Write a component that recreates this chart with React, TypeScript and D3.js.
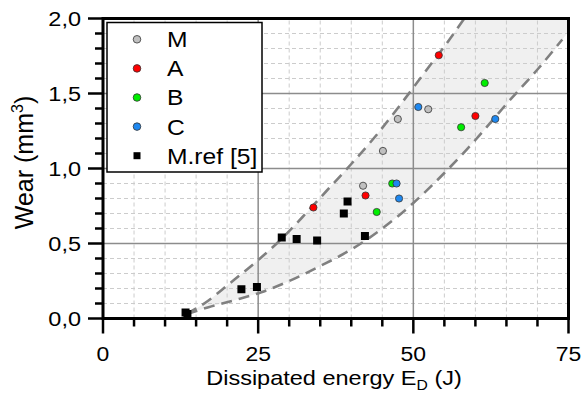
import React from 'react'
import * as d3 from 'd3'

// wear vs dissipated energy
const seriesM = [[41.9, 0.885], [45.1, 1.117], [47.5, 1.33], [52.4, 1.395]]
const seriesA = [[33.9, 0.74], [42.3, 0.82], [54.1, 1.755], [60.0, 1.35]]
const seriesB = [[44.1, 0.71], [46.6, 0.9], [57.7, 1.275], [61.5, 1.57]]
const seriesC = [[47.3, 0.9], [47.7, 0.8], [50.8, 1.41], [63.2, 1.33]]
const seriesRef = [
  [13.3, 0.04], [13.6, 0.03], [22.3, 0.195], [24.8, 0.21], [28.8, 0.54],
  [31.2, 0.53], [34.5, 0.52], [38.8, 0.7], [39.4, 0.78], [42.2, 0.55]
]

// scatter band edges
const bandUpper = [
  [13.5, 0.03], [17, 0.12], [20, 0.22], [25, 0.39], [28.5, 0.52], [32, 0.67],
  [36, 0.85], [40, 1.03], [44, 1.22], [48, 1.43], [52, 1.65], [56, 1.87], [58.2, 2.0]
]
const bandLower = [
  [13.5, 0.03], [17, 0.075], [21, 0.12], [25.5, 0.175], [30, 0.25], [35, 0.35],
  [40, 0.46], [45, 0.6], [50, 0.77], [55, 0.97], [60, 1.19], [65, 1.43],
  [70, 1.66], [74, 1.86]
]
const bandCorner = [[75, 2.0], [75, 1.93]]

const xTicks = [0, 25, 50, 75]
const yTicks = [0, 0.5, 1.0, 1.5, 2.0]

const legendItems = [
  { label: 'M', color: '#c0c0c0', shape: 'circle' },
  { label: 'A', color: '#ff0000', shape: 'circle' },
  { label: 'B', color: '#00ee00', shape: 'circle' },
  { label: 'C', color: '#1e88f0', shape: 'circle' },
  { label: 'M.ref [5]', color: '#000000', shape: 'square' }
]

const circleSeries = [
  { data: seriesM, color: legendItems[0].color },
  { data: seriesA, color: legendItems[1].color },
  { data: seriesB, color: legendItems[2].color },
  { data: seriesC, color: legendItems[3].color }
]

const W = 584
const H = 402
const font = "'Liberation Sans', Arial, sans-serif"
const SX = 1.12 // text in the source is a bit wider than plain Arial

const x = d3.scaleLinear().domain([0, 75]).range([103, 568.5])
const y = d3.scaleLinear().domain([0, 2]).range([318.5, 18.5])
const fmt = d3.formatLocale({ decimal: ',', thousands: '.', grouping: [3], currency: ['', ''] }).format('.1f')

const xMinor = d3.range(0, 75.01, 5)
const yMinor = d3.range(0, 2.001, 0.1)

const T = ({ x, y, size, anchor = 'start', dy = 0, children }) => (
  <text transform={`translate(${x},${y}) scale(${SX},1)`} dy={dy} textAnchor={anchor} fontSize={size}>{children}</text>
)

export default function App () {
  const line = d3.line().x(d => x(d[0])).y(d => y(d[1])).curve(d3.curveMonotoneX)
  const upperPath = line(bandUpper)
  const lowerRev = line([...bandCorner, ...bandLower.slice().reverse()])
  const fillPath = upperPath + lowerRev.replace(/^M/, 'L') + 'Z'

  const [x0, x1] = x.range()
  const [y0, y1] = y.range()

  return (
    <svg width={W} height={H} style={{ position: 'absolute', left: 0, top: 0, fontFamily: font }}>
      <rect width={W} height={H} fill='#fff' />
      <defs>
        <clipPath id='plot'>
          <rect x={x0} y={y1} width={x1 - x0} height={y0 - y1} />
        </clipPath>
      </defs>

      <g clipPath='url(#plot)'>
        <path d={fillPath} fill='#f0f0f0' />
      </g>

      {/* minor grid */}
      {xMinor.filter(v => v % 25 !== 0).map(v => (
        <line key={'gx' + v} x1={x(v)} x2={x(v)} y1={y0} y2={y1} stroke='#cccccc' strokeDasharray='4,3' />
      ))}
      {yMinor.filter(v => Math.abs(v * 2 - Math.round(v * 2)) > 0.01).map(v => (
        <line key={'gy' + v} x1={x0} x2={x1} y1={y(v)} y2={y(v)} stroke='#cccccc' strokeDasharray='4,3' />
      ))}
      {/* major grid */}
      {xTicks.slice(1, -1).map(v => (
        <line key={'Gx' + v} x1={x(v)} x2={x(v)} y1={y0} y2={y1} stroke='#8c8c8c' strokeWidth={1.5} />
      ))}
      {yTicks.slice(1, -1).map(v => (
        <line key={'Gy' + v} x1={x0} x2={x1} y1={y(v)} y2={y(v)} stroke='#8c8c8c' strokeWidth={1.5} />
      ))}

      <g clipPath='url(#plot)' fill='none' stroke='#808080' strokeWidth={2.6} strokeDasharray='11,7'>
        <path d={upperPath} />
        <path d={line(bandLower)} />
      </g>

      {circleSeries.map((s, i) => (
        <g key={i}>
          {s.data.map((d, j) => (
            <circle key={j} cx={x(d[0])} cy={y(d[1])} r={3.6} fill={s.color} stroke='#333' strokeWidth={0.8} />
          ))}
        </g>
      ))}
      {seriesRef.map((d, j) => (
        <rect key={j} x={x(d[0]) - 4} y={y(d[1]) - 4} width={8} height={8} fill='#000' />
      ))}

      {/* frame and ticks */}
      <rect x={x0} y={y1} width={x1 - x0} height={y0 - y1} fill='none' stroke='#000' strokeWidth={3} />
      {xMinor.map(v => (
        <line key={'tx' + v} x1={x(v)} x2={x(v)} y1={y0} y2={y0 + (v % 25 === 0 ? 15 : 8)} stroke='#000' strokeWidth={2.5} />
      ))}
      {yMinor.map((v, i) => (
        <line key={'ty' + i} x1={x0} x2={x0 - (i % 5 === 0 ? 15 : 8)} y1={y(v)} y2={y(v)} stroke='#000' strokeWidth={2.5} />
      ))}
      {xTicks.map(v => (
        <T key={'lx' + v} x={x(v)} y={360.5} size={20.5} anchor='middle'>{v}</T>
      ))}
      {yTicks.map(v => (
        <T key={'ly' + v} x={81} y={y(v)} size={21} anchor='end' dy='0.36em'>{fmt(v)}</T>
      ))}

      <T x={334} y={385} size={21} anchor='middle'>
        Dissipated energy E<tspan fontSize={14} dy={5}>D</tspan><tspan dy={-5}> (J)</tspan>
      </T>
      <text transform={`translate(33,${(y0 + y1) / 2 - 6}) rotate(-90)`} textAnchor='middle' fontSize={25}>
        Wear (mm<tspan fontSize={16} dy={-10}>3</tspan><tspan dy={10}>)</tspan>
      </text>

      {/* legend */}
      <rect x={107} y={22.5} width={155} height={149.5} fill='#fff' stroke='#000' strokeWidth={1.5} />
      {legendItems.map((it, i) => {
        const cy = 39.3 + i * 29.1
        return (
          <g key={it.label}>
            {it.shape === 'circle'
              ? <circle cx={137} cy={cy} r={3.8} fill={it.color} stroke='#333' strokeWidth={0.8} />
              : <rect x={133.5} y={cy - 3.5} width={7} height={7} fill={it.color} />}
            <T x={167} y={cy} size={22} dy='0.36em'>{it.label}</T>
          </g>
        )
      })}
    </svg>
  )
}
